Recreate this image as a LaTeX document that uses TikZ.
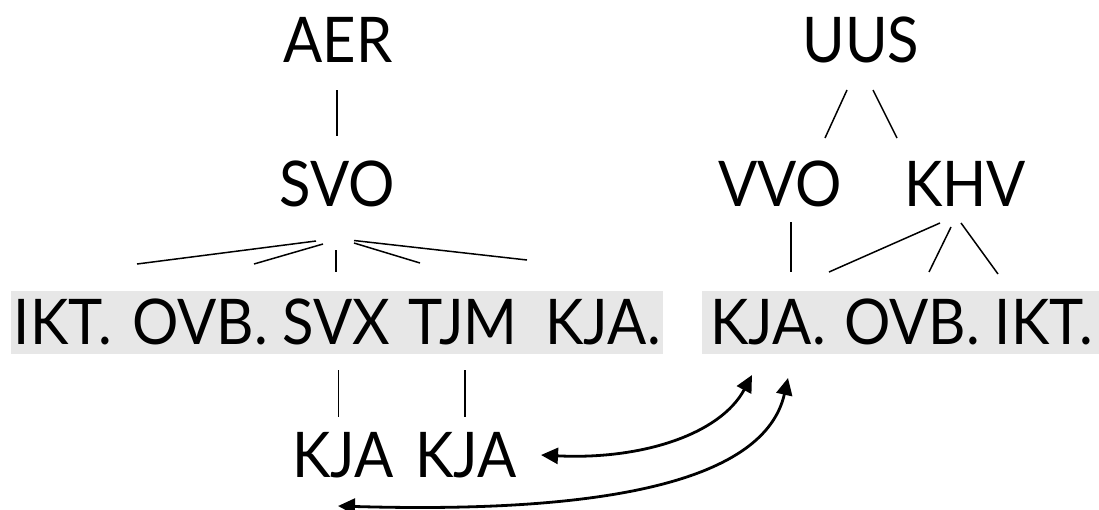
\documentclass[tikz,border=0pt]{standalone}
\usepackage{fontspec}
\setmainfont[FakeStretch=0.92]{Lato}
\usetikzlibrary{arrows.meta}
\definecolor{boxgray}{RGB}{231,231,231}
\begin{document}
\begin{tikzpicture}[x=1pt,y=-1pt,
  lbl/.style={inner sep=0pt, anchor=base, font=\fontsize{63}{70}\selectfont},
  tree/.style={line width=1.5pt},
  link/.style={line width=2.8pt, {Triangle[length=17pt,width=16pt]}-{Triangle[length=17pt,width=16pt]}},
  graybox/.style={fill=boxgray, draw=none, inner sep=0pt}]
\useasboundingbox (0,0) rectangle (1099,509);
% grey boxes
\node[graybox, minimum width=652pt, minimum height=63pt] (boxL) at (337,322.5) {};
\node[graybox, minimum width=397pt, minimum height=63pt] (boxR) at (900.5,322.5) {};
% row 1 and 2
\node[lbl] (aer) at (338,62) {AER};
\node[lbl] (svo) at (337,206) {SVO};
\node[lbl] (uus) at (861,62) {UUS};
\node[lbl] (vvo) at (780,206) {VVO};
\node[lbl] (khv) at (965,206) {KHV};
% row 3
\node[lbl] (w1) at (63,344) {IKT.};
\node[lbl] (w2) at (200,344) {OVB.};
\node[lbl] (w3) at (336,344) {SVX};
\node[lbl] (w4) at (463,344) {TJM};
\node[lbl] (w5) at (603,344) {KJA.};
\node[lbl] (r1) at (768,344) {KJA.};
\node[lbl] (r2) at (912,344) {OVB.};
\node[lbl] (r3) at (1044,344) {IKT.};
% row 4
\node[lbl] (k1) at (343,477) {KJA};
\node[lbl] (k2) at (466,477) {KJA};
% tree line end points
\coordinate (a1) at (337,90);   \coordinate (a2) at (337,136);
\coordinate (u1) at (847,90);   \coordinate (u2) at (825,138);
\coordinate (u3) at (873,90);   \coordinate (u4) at (897,138);
\coordinate (s1) at (316,241);  \coordinate (s2) at (137,264);
\coordinate (s3) at (323,244);  \coordinate (s4) at (254,264);
\coordinate (s5) at (336,250);  \coordinate (s6) at (336,272);
\coordinate (s7) at (354,243);  \coordinate (s8) at (420,263);
\coordinate (s9) at (354,240.5);\coordinate (s10) at (527,260);
\coordinate (v1) at (791,222);  \coordinate (v2) at (791,272);
\coordinate (h1) at (940,223);  \coordinate (h2) at (829,272);
\coordinate (h3) at (951,227);  \coordinate (h4) at (929,272);
\coordinate (h5) at (961,223);  \coordinate (h6) at (998,274);
\coordinate (d1) at (338.5,370);\coordinate (d2) at (338.5,417);
\coordinate (d3) at (465,370);  \coordinate (d4) at (465,417);
\draw[tree] (a1) -- (a2);
\draw[tree] (u1) -- (u2);
\draw[tree] (u3) -- (u4);
\draw[tree] (s1) -- (s2);
\draw[tree] (s3) -- (s4);
\draw[tree] (s5) -- (s6);
\draw[tree] (s7) -- (s8);
\draw[tree] (s9) -- (s10);
\draw[tree] (v1) -- (v2);
\draw[tree] (h1) -- (h2);
\draw[tree] (h3) -- (h4);
\draw[tree] (h5) -- (h6);
\draw[tree] (d1) -- (d2);
\draw[tree] (d3) -- (d4);
% arrows
\coordinate (t1) at (541,455);
\coordinate (t2) at (752,375);
\coordinate (t3) at (338,506);
\coordinate (t4) at (788,378);
\draw[link] (t1) .. controls (640,460) and (720,435) .. (t2);
\draw[link] (t3) .. controls (610,514) and (765,480) .. (t4);
\end{tikzpicture}
\end{document}
